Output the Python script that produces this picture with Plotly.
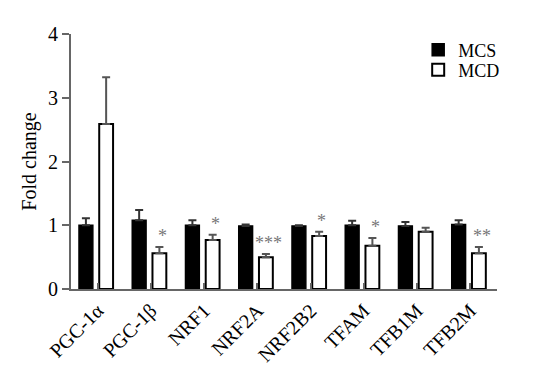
import plotly.graph_objects as go

categories = ["PGC-1α", "PGC-1β", "NRF1", "NRF2A", "NRF2B2", "TFAM", "TFB1M", "TFB2M"]
mcs_values = [1.00, 1.08, 1.00, 0.99, 0.99, 1.00, 0.99, 1.01]
mcs_err = [0.11, 0.16, 0.08, 0.02, 0.01, 0.07, 0.06, 0.07]
mcd_values = [2.59, 0.56, 0.77, 0.50, 0.83, 0.68, 0.90, 0.56]
mcd_err = [0.73, 0.10, 0.08, 0.05, 0.07, 0.12, 0.06, 0.10]
stars = ["", "*", "*", "***", "*", "*", "", "**"]
y_ticks = [0, 1, 2, 3, 4]

FONT = "Liberation Serif, Times New Roman, serif"
AX = "#666666"

fig = go.Figure()
fig.add_trace(go.Bar(
    name="MCS", x=categories, y=mcs_values, legend="legend",
    marker=dict(color="black", line=dict(color="black", width=1.5)),
    width=0.26, offset=-0.35,
    error_y=dict(type="data", array=mcs_err, arrayminus=[0]*len(mcs_err), symmetric=False,
                 color="#333333", thickness=2, width=4),
))
fig.add_trace(go.Bar(
    name="MCD", x=categories, y=mcd_values, legend="legend2",
    marker=dict(color="white", line=dict(color="black", width=2)),
    width=0.26, offset=0.03,
    error_y=dict(type="data", array=mcd_err, arrayminus=[0]*len(mcd_err), symmetric=False,
                 color="#555555", thickness=2, width=4),
))

for i, (c, s) in enumerate(zip(categories, stars)):
    if s:
        fig.add_annotation(
            x=i + 0.21, y=mcd_values[i] + mcd_err[i], xref="x", yref="y",
            text=s, showarrow=False, yanchor="bottom", yshift=-1,
            font=dict(family=FONT, size=18, color="#777777"),
        )

leg_common = dict(xanchor="left", yanchor="middle",
                  font=dict(family=FONT, size=18, color="black"),
                  bgcolor="rgba(0,0,0,0)", itemwidth=30)

fig.update_layout(
    width=538, height=358,
    margin=dict(l=63, r=49, t=26, b=77, autoexpand=False),
    paper_bgcolor="white", plot_bgcolor="white",
    font=dict(family=FONT, color="black"),
    barmode="group",
    showlegend=True,
    legend=dict(x=0.815, y=(289 - 50) / 255, **leg_common),
    legend2=dict(x=0.815, y=(289 - 70) / 255, **leg_common),
    xaxis=dict(
        range=[-0.5, 7.5], showline=True, linecolor=AX, linewidth=2,
        ticks="inside", ticklen=6, tickcolor=AX, tickwidth=1.5,
        tickangle=-45, tickfont=dict(family=FONT, size=20, color="black"),
        showgrid=False, zeroline=False, automargin=False,
    ),
    yaxis=dict(
        range=[0, 4], tickvals=y_ticks, showline=True, linecolor=AX, linewidth=2,
        ticks="outside", ticklen=7, tickcolor=AX, tickwidth=1.5,
        tickfont=dict(family=FONT, size=20, color="black"),
        title=dict(text="Fold change", font=dict(family=FONT, size=20, color="black"), standoff=6),
        showgrid=False, zeroline=False, automargin=False,
    ),
)

fig.write_html("out.html")
